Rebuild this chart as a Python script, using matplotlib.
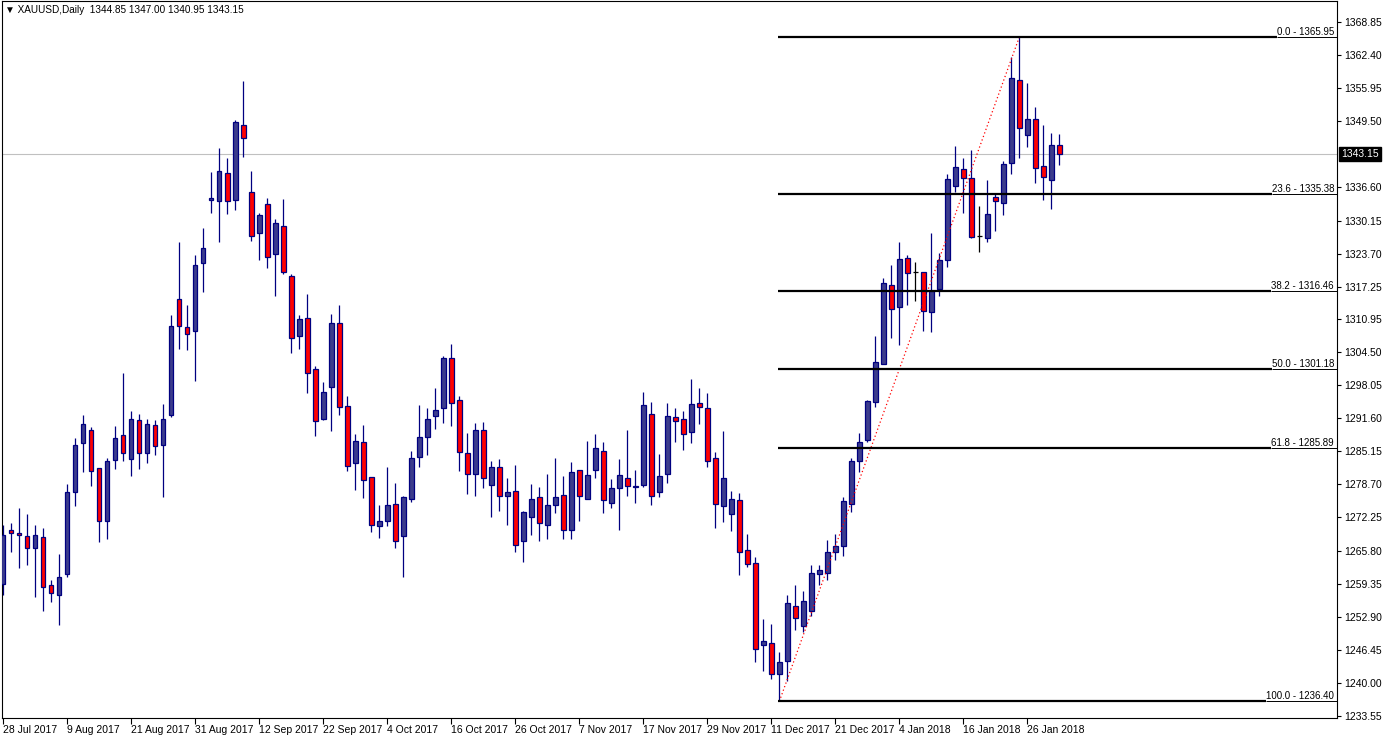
import matplotlib
matplotlib.use('Agg')
import matplotlib.pyplot as plt
import numpy as np

plt.rcParams['font.family'] = ['Liberation Sans', 'DejaVu Sans']

# daily OHLC, 28 Jul 2017 .. 1 Feb 2018
opens = [1259.2, 1269.9, 1269.3, 1268.7, 1266.2, 1268.5, 1259.0, 1257.2, 1261.2, 1277.3,
         1286.7, 1289.4, 1281.8, 1271.5, 1283.4, 1288.3, 1283.6, 1291.3, 1284.8, 1290.2,
         1286.3, 1292.3, 1314.8, 1309.3, 1308.7, 1321.8, 1334.1, 1333.9, 1339.5, 1334.1,
         1348.7, 1335.8, 1327.8, 1333.3, 1323.6, 1329.0, 1319.4, 1307.6, 1311.1, 1301.2,
         1291.4, 1297.6, 1310.2, 1293.9, 1282.8, 1286.9, 1280.1, 1270.5, 1271.5, 1274.8,
         1268.6, 1275.9, 1284.0, 1287.9, 1292.0, 1293.5, 1303.3, 1295.1, 1284.9, 1280.8,
         1289.4, 1278.5, 1282.0, 1276.5, 1277.5, 1267.6, 1272.3, 1276.2, 1270.7, 1274.6,
         1276.6, 1269.9, 1281.6, 1275.9, 1281.6, 1285.3, 1275.0, 1277.9, 1279.9, 1278.1,
         1278.5, 1292.5, 1277.3, 1280.8, 1291.8, 1291.4, 1289.0, 1294.5, 1293.5, 1283.8,
         1274.4, 1273.0, 1275.6, 1266.0, 1263.3, 1247.3, 1247.7, 1241.7, 1244.2, 1254.9,
         1251.0, 1254.0, 1261.2, 1261.4, 1265.6, 1266.6, 1274.8, 1283.2, 1287.3, 1294.7,
         1302.1, 1317.5, 1313.2, 1322.8, 1320.2, 1320.2, 1312.3, 1316.8, 1322.4, 1336.8,
         1340.1, 1338.5, 1327.1, 1326.7, 1334.7, 1333.5, 1341.3, 1357.5, 1346.9, 1349.9,
         1340.7, 1338.0, 1344.85]
highs = [1270.7, 1271.1, 1274.1, 1272.9, 1270.7, 1270.2, 1260.0, 1265.2, 1278.7, 1287.7,
         1292.2, 1289.8, 1281.8, 1283.8, 1290.0, 1300.5, 1293.1, 1292.5, 1291.4, 1291.2,
         1294.4, 1311.8, 1325.9, 1313.6, 1323.5, 1328.6, 1339.6, 1344.2, 1342.3, 1349.7,
         1357.3, 1339.9, 1331.7, 1334.6, 1330.4, 1334.3, 1319.8, 1311.7, 1315.9, 1301.8,
         1298.6, 1312.0, 1313.6, 1296.0, 1288.6, 1290.2, 1280.1, 1274.6, 1282.0, 1278.9,
         1276.4, 1285.3, 1294.1, 1293.5, 1297.4, 1303.7, 1306.0, 1296.0, 1288.8, 1290.6,
         1290.9, 1283.2, 1283.6, 1279.9, 1282.4, 1273.6, 1278.7, 1278.1, 1280.8, 1283.9,
         1280.3, 1283.0, 1281.6, 1287.1, 1288.5, 1286.9, 1279.7, 1283.6, 1289.4, 1281.6,
         1296.8, 1294.7, 1284.7, 1294.5, 1293.5, 1293.1, 1299.2, 1297.4, 1296.6, 1285.1,
         1289.2, 1277.5, 1277.0, 1269.1, 1264.5, 1252.4, 1251.4, 1246.1, 1257.1, 1259.0,
         1258.0, 1263.0, 1263.0, 1267.8, 1269.0, 1276.3, 1283.8, 1288.8, 1295.1, 1307.6,
         1318.9, 1321.4, 1325.9, 1323.4, 1322.0, 1320.2, 1327.7, 1323.9, 1339.2, 1344.6,
         1342.3, 1343.9, 1332.9, 1338.0, 1335.5, 1341.7, 1362.0, 1365.95, 1356.9, 1352.2,
         1348.7, 1347.3, 1347.00]
lows = [1257.2, 1265.6, 1262.4, 1262.9, 1256.8, 1254.0, 1255.7, 1251.3, 1260.7, 1274.5,
        1281.2, 1278.4, 1267.4, 1268.0, 1281.7, 1283.3, 1280.4, 1281.7, 1282.8, 1284.5,
        1276.2, 1291.8, 1305.0, 1304.9, 1298.9, 1316.3, 1331.7, 1326.0, 1331.5, 1332.2,
        1342.6, 1326.2, 1322.5, 1320.8, 1315.5, 1319.7, 1304.4, 1305.0, 1296.5, 1288.1,
        1291.2, 1289.2, 1292.2, 1281.4, 1277.7, 1276.0, 1269.5, 1268.2, 1270.5, 1266.2,
        1260.6, 1275.2, 1282.0, 1284.5, 1289.5, 1290.7, 1290.1, 1281.4, 1276.9, 1276.5,
        1277.9, 1272.4, 1273.6, 1270.7, 1265.5, 1263.5, 1268.9, 1267.6, 1268.0, 1273.2,
        1268.0, 1268.1, 1271.6, 1275.8, 1279.9, 1273.2, 1274.0, 1269.9, 1276.5, 1275.0,
        1278.1, 1274.6, 1276.2, 1278.9, 1286.9, 1285.5, 1286.7, 1290.4, 1282.0, 1270.2,
        1271.4, 1269.6, 1261.0, 1262.5, 1244.0, 1242.4, 1240.7, 1236.4, 1240.3, 1250.4,
        1250.0, 1253.0, 1259.0, 1260.0, 1263.9, 1264.8, 1273.4, 1281.2, 1286.9, 1293.7,
        1302.1, 1307.3, 1305.8, 1313.6, 1314.5, 1308.6, 1308.4, 1315.5, 1321.0, 1335.8,
        1331.7, 1326.7, 1324.1, 1325.9, 1328.2, 1331.2, 1339.3, 1342.3, 1344.4, 1337.4,
        1334.2, 1332.4, 1340.95]
closes = [1268.9, 1269.3, 1268.9, 1266.2, 1268.9, 1258.7, 1257.6, 1260.7, 1277.3, 1286.3,
          1290.4, 1281.4, 1271.5, 1283.2, 1287.7, 1284.8, 1291.5, 1284.9, 1290.4, 1286.1,
          1291.4, 1309.5, 1309.5, 1308.1, 1321.4, 1324.7, 1334.5, 1339.9, 1333.9, 1349.3,
          1346.3, 1327.2, 1331.2, 1323.0, 1329.6, 1320.2, 1307.2, 1310.9, 1300.4, 1291.1,
          1296.8, 1310.2, 1293.7, 1282.2, 1287.1, 1279.5, 1270.8, 1271.5, 1274.6, 1267.6,
          1276.2, 1283.9, 1287.9, 1291.4, 1293.3, 1303.3, 1294.5, 1285.1, 1280.8, 1289.4,
          1280.0, 1282.0, 1276.5, 1277.3, 1266.9, 1273.4, 1275.9, 1271.1, 1274.6, 1276.2,
          1269.9, 1281.2, 1276.4, 1280.5, 1285.7, 1275.6, 1277.9, 1280.5, 1278.3, 1278.3,
          1294.1, 1276.5, 1280.3, 1292.0, 1291.0, 1288.5, 1294.3, 1293.7, 1283.2, 1274.8,
          1279.9, 1275.9, 1265.6, 1263.1, 1246.7, 1248.1, 1241.7, 1244.0, 1255.5, 1252.6,
          1256.0, 1261.5, 1262.1, 1265.5, 1266.7, 1275.4, 1283.2, 1286.9, 1294.9, 1302.5,
          1317.9, 1312.8, 1322.6, 1319.9, 1320.2, 1312.6, 1316.5, 1322.4, 1338.2, 1340.5,
          1338.4, 1326.9, 1327.1, 1331.5, 1333.9, 1341.1, 1357.9, 1348.1, 1349.9, 1340.3,
          1338.6, 1344.8, 1343.15]

date_labels = ['28 Jul 2017', '9 Aug 2017', '21 Aug 2017', '31 Aug 2017', '12 Sep 2017',
               '22 Sep 2017', '4 Oct 2017', '16 Oct 2017', '26 Oct 2017', '7 Nov 2017',
               '17 Nov 2017', '29 Nov 2017', '11 Dec 2017', '21 Dec 2017', '4 Jan 2018',
               '16 Jan 2018', '26 Jan 2018']
price_ticks = [1368.85, 1362.40, 1355.95, 1349.50, 1336.60, 1330.15, 1323.70, 1317.25,
               1310.95, 1304.50, 1298.05, 1291.60, 1285.15, 1278.70, 1272.25, 1265.80,
               1259.35, 1252.90, 1246.45, 1240.00, 1233.55]

fib_levels = [0.0, 23.6, 38.2, 50.0, 61.8, 100.0]
swing_low, swing_high = 1236.40, 1365.95
swing_low_bar, swing_high_bar = 97, 127
last_price = 1343.15

o = np.array(opens)
h = np.array(highs)
l = np.array(lows)
c = np.array(closes)
x = np.arange(len(o))

fig = plt.figure(figsize=(13.86, 7.39), dpi=100)
ax = fig.add_axes([2 / 1386, 21 / 739, 1335 / 1386, 717 / 739])
xmin, xmax = -0.16, 166.7
ax.set_xlim(xmin, xmax)
ax.set_ylim(1233.15, 1372.95)

navy = '#000080'
up = c > o
dn = c < o
dj = c == o

# current price line
ax.axhline(last_price, color='#c0c0c0', lw=0.8, zorder=1)

# candles
wick_col = np.where(dj, 'black', navy)
ax.vlines(x, l, h, colors=list(wick_col), lw=0.9, zorder=2)
ax.bar(x[up], (c - o)[up], bottom=o[up], width=0.55, color='#3c3c8c',
       edgecolor=navy, lw=0.9, zorder=3)
ax.bar(x[dn], (o - c)[dn], bottom=c[dn], width=0.55, color='red',
       edgecolor=navy, lw=0.9, zorder=3)
ax.hlines(o[dj], x[dj] - 0.35, x[dj] + 0.35, colors='black', lw=0.9, zorder=3)

# fibonacci retracement
ax.plot([swing_low_bar, swing_high_bar], [swing_low, swing_high], color='red',
        ls=(0, (1, 2)), lw=0.9, zorder=4)
fib_texts = []
for lvl in fib_levels:
    price = swing_high - (swing_high - swing_low) * lvl / 100
    t = ax.text(0.9978, price, f'{lvl:.1f} - {price:.2f}', transform=ax.get_yaxis_transform(),
                ha='right', va='bottom', fontsize=7, zorder=5)
    fib_texts.append((price, t))

# axes styling
for s in ax.spines.values():
    s.set_color('black')
    s.set_linewidth(0.8)
ax.yaxis.tick_right()
ax.set_yticks(price_ticks)
ax.set_yticklabels([f'{p:.2f}' for p in price_ticks], fontsize=7.5)
ax.tick_params(axis='y', direction='out', length=3, width=0.8, pad=2)
ax.set_xticks(np.arange(0, 8 * len(date_labels), 8))
ax.set_xticklabels(date_labels, fontsize=7.5, ha='left')
ax.tick_params(axis='x', direction='out', length=4, width=0.8, pad=1)

ax.text(0.0025, 0.995, '\u25bc XAUUSD,Daily  %.2f %.2f %.2f %.2f' % (o[-1], h[-1], l[-1], c[-1]),
        transform=ax.transAxes, ha='left', va='top', fontsize=7.2)

ax.text(1.0 + 4 / 1335, last_price, f'{last_price:.2f}', transform=ax.get_yaxis_transform(),
        ha='left', va='center', fontsize=7.5, color='white', clip_on=False,
        bbox=dict(boxstyle='square,pad=0.2', fc='black', ec='black'))

fig.canvas.draw()
inv = ax.transData.inverted()
for price, t in fib_texts:
    bb = t.get_window_extent()
    xs = inv.transform((bb.x0, 0))[0]
    ax.hlines(price, swing_low_bar - 0.15, xs, colors='black', lw=1.6, zorder=4)
    ax.hlines(price, xs, xmax, colors='black', lw=0.7, zorder=4)

fig.savefig('out.png', dpi=100)
